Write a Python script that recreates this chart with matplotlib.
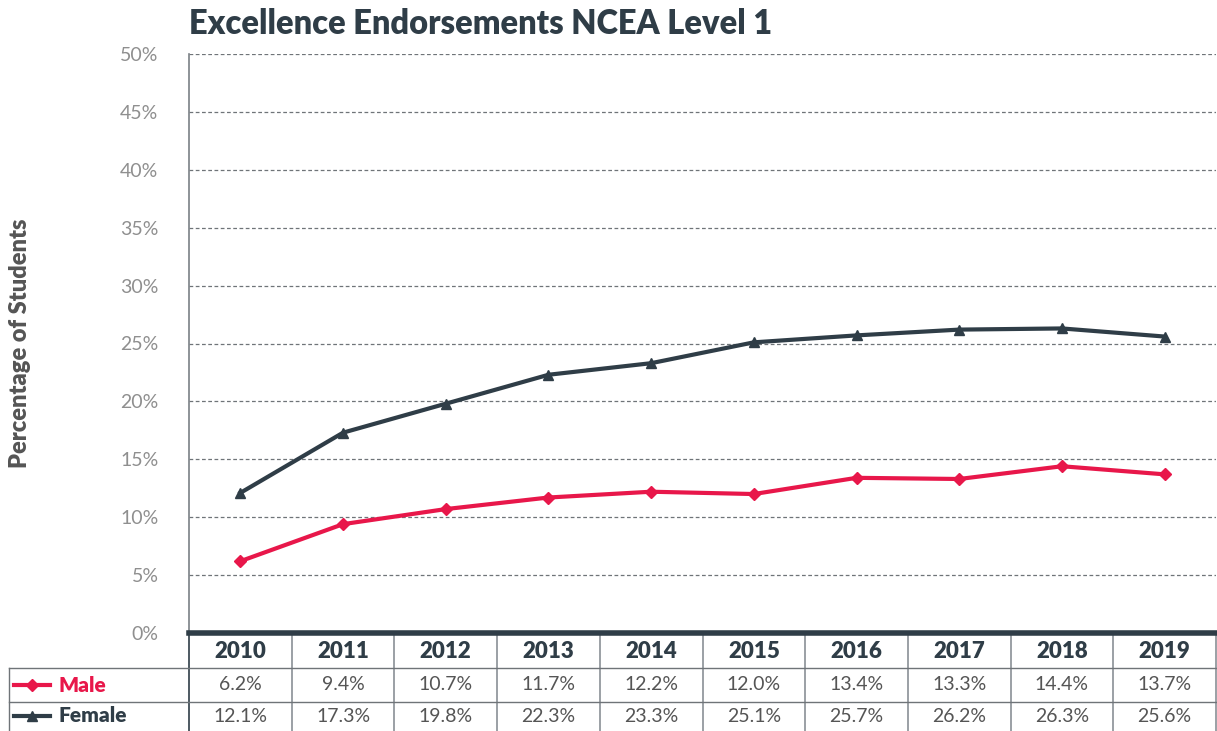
import matplotlib
matplotlib.use("Agg")
import matplotlib.pyplot as plt
from matplotlib.lines import Line2D
import matplotlib.transforms as mtransforms

# ── Data ──────────────────────────────────────────────────────────────────────
YEARS = ["2010", "2011", "2012", "2013", "2014", "2015", "2016", "2017", "2018", "2019"]
MALE = [6.2, 9.4, 10.7, 11.7, 12.2, 12.0, 13.4, 13.3, 14.4, 13.7]
FEMALE = [12.1, 17.3, 19.8, 22.3, 23.3, 25.1, 25.7, 26.2, 26.3, 25.6]
Y_TICKS = [0, 5, 10, 15, 20, 25, 30, 35, 40, 45, 50]

RED = "#e8174a"
DARK = "#2f3d47"
TEXT = "#555555"

plt.rcParams["font.family"] = ["Lato", "DejaVu Sans"]

W, H = 1217, 731
fig = plt.figure(figsize=(W / 100, H / 100), dpi=100)
ax_l, ax_r, ax_t, ax_b = 189, 1216, 54, 633
ax = fig.add_axes([ax_l / W, 1 - ax_b / H, (ax_r - ax_l) / W, (ax_b - ax_t) / H])

x = list(range(len(YEARS)))
ax.plot(x, FEMALE, color=DARK, lw=3, marker="^", ms=7, zorder=3)
ax.plot(x, MALE, color=RED, lw=3, marker="D", ms=6.5, zorder=3)

ax.set_xlim(-0.5, len(YEARS) - 0.5)
ax.set_ylim(0, 50)
ax.set_yticks(Y_TICKS)
ax.set_yticklabels([f"{t}%" for t in Y_TICKS], fontsize=14, color="#8f8f8f")
ax.tick_params(axis="y", length=0, pad=22)
ax.set_xticks([])
for t in Y_TICKS[1:]:
    ax.axhline(t, color="#6f7478", lw=0.9, ls=(0, (3, 2)), zorder=1)

for s in ["top", "right"]:
    ax.spines[s].set_visible(False)
ax.spines["left"].set_color("#7a8085")
ax.spines["left"].set_linewidth(1.2)
ax.spines["bottom"].set_color(DARK)
ax.spines["bottom"].set_linewidth(4)

ax.set_ylabel("Percentage of Students", fontsize=17, fontweight="heavy",
              color=TEXT, labelpad=64)
fig.text(ax_l / W, 1 - 24 / H, "Excellence Endorsements NCEA Level 1",
         fontsize=23.5, fontweight="heavy", color=DARK, va="center", ha="left")

# ── Data table below the axis ─────────────────────────────────────────────────
hpx = ax_b - ax_t
def yfrac(py):
    return (ax_b - py) / hpx

trans = mtransforms.blended_transform_factory(ax.transData, ax.transAxes)
y_head, y_male, y_fem = yfrac(651), yfrac(685), yfrac(716)
y_line1, y_line2, y_bot = yfrac(668), yfrac(702), yfrac(731)
x_lab = (9 - ax_l) / (ax_r - ax_l)

for i, yr in enumerate(YEARS):
    ax.text(i, y_head, yr, transform=trans, ha="center", va="center",
            fontsize=16, fontweight="heavy", color=DARK, clip_on=False)
    ax.text(i, y_male, f"{MALE[i]:.1f}%", transform=trans, ha="center",
            va="center", fontsize=14, color=TEXT, clip_on=False)
    ax.text(i, y_fem, f"{FEMALE[i]:.1f}%", transform=trans, ha="center",
            va="center", fontsize=14, color=TEXT, clip_on=False)

# grid lines of the table
for i in range(len(YEARS) + 1):
    xv = i - 0.5
    col = DARK if i == 0 else "#8a9096"
    ax.add_line(Line2D([xv, xv], [0, y_bot], transform=trans, color=col,
                       lw=1.2, clip_on=False))
for yv in (y_line1, y_line2):
    ax.add_line(Line2D([x_lab, 1], [yv, yv], transform=ax.transAxes,
                       color="#6f7478", lw=1, clip_on=False))
ax.add_line(Line2D([x_lab, x_lab], [y_line1, y_bot], transform=ax.transAxes,
                   color="#6f7478", lw=1, clip_on=False))

# row labels with legend keys
def key_x(px):
    return (px - ax_l) / (ax_r - ax_l)

for yv, col, mk, ms, lab in [(y_male, RED, "D", 6, "Male"),
                             (y_fem, DARK, "^", 7, "Female")]:
    ax.add_line(Line2D([key_x(14), key_x(50)], [yv, yv], transform=ax.transAxes,
                       color=col, lw=3, clip_on=False))
    ax.add_line(Line2D([key_x(32)], [yv], transform=ax.transAxes, color=col,
                       marker=mk, ms=ms, clip_on=False))
    ax.text(key_x(58), yv, lab, transform=ax.transAxes, ha="left", va="center",
            fontsize=15, fontweight="heavy", color=col, clip_on=False)

fig.savefig("out.png", dpi=100)
